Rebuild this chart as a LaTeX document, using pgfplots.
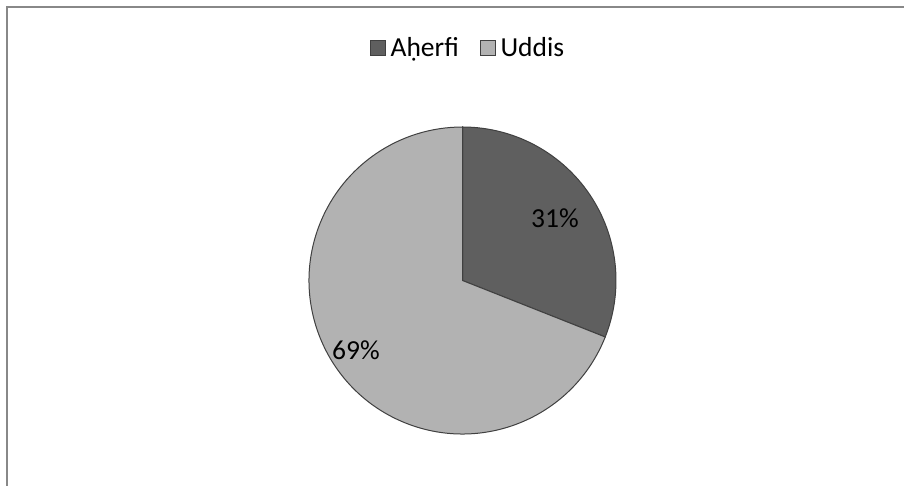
\documentclass[border=0pt]{standalone}
\usepackage{pgfplots}
\pgfplotsset{compat=1.18}
\usepackage{pgfplotstable}
\usepackage{fontspec}
\setmainfont{Carlito}
\definecolor{darkslice}{HTML}{5F5F5F}
\definecolor{lightslice}{HTML}{B2B2B2}
\definecolor{outl}{HTML}{404040}
\definecolor{framec}{HTML}{888888}
\pgfplotstableread{
idx value
0 31
1 69
}\piedata
\begin{document}
\begin{tikzpicture}
\useasboundingbox (0,0) rectangle (905pt,486pt);
\pgfplotstablegetelem{0}{value}\of\piedata \let\va\pgfplotsretval
\pgfplotstablegetelem{1}{value}\of\piedata \let\vb\pgfplotsretval
\pgfmathsetmacro\angA{90-3.6*\va}
\pgfmathsetmacro\angB{\angA-3.6*\vb}
\begin{axis}[at={(0,0)},anchor=south west, scale only axis,
  width=905pt, height=486pt, xmin=0,xmax=905,ymin=0,ymax=486,
  hide axis, clip=false,
  legend columns=2,
  legend style={draw=none, fill=none, at={(axis cs:467.5,438)}, anchor=center,
    font=\fontsize{27.5}{32}\selectfont, inner sep=0pt,
    nodes={inner sep=1pt},
    /tikz/every odd column/.append style={column sep=0pt},
    /tikz/every even column/.append style={column sep=20pt}},
  legend image code/.code={\draw[#1] (0pt,-7.5pt) rectangle (15pt,7.5pt); \path (19pt,0pt);}]
\addlegendimage{fill=darkslice, draw=outl, line width=0.8pt}
\addlegendentry{Aḥerfi}
\addlegendimage{fill=lightslice, draw=outl, line width=0.8pt}
\addlegendentry{Uddis}
\draw[framec, line width=2pt] (axis cs:7,0) -- (axis cs:7,478.5) -- (axis cs:904,478.5);
\filldraw[fill=darkslice, draw=outl, line width=1pt] (axis cs:462.5,205.5) -- ++(90:153.5pt) arc[start angle=90,end angle=\angA,radius=153.5pt] -- cycle;
\filldraw[fill=lightslice, draw=outl, line width=1pt] (axis cs:462.5,205.5) -- ++(\angA:153.5pt) arc[start angle=\angA,end angle=\angB,radius=153.5pt] -- cycle;
\node[font=\fontsize{27.5}{32}\selectfont] at (axis cs:555,268) {31\%};
\node[font=\fontsize{27.5}{32}\selectfont] at (axis cs:356,136) {69\%};
\end{axis}
\end{tikzpicture}
\end{document}
